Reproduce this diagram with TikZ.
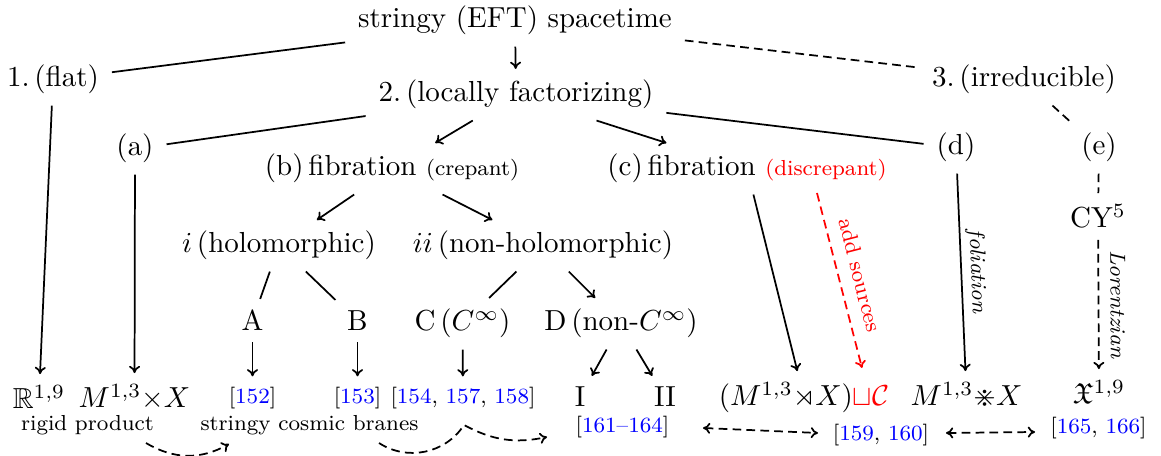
\documentclass[tikz,border=0pt]{standalone}
\usepackage{amssymb}
\usetikzlibrary{calc,arrows.meta}
\newcommand{\smf}{\fontsize{7.5}{9}\selectfont}
\begin{document}
\begin{tikzpicture}[x=0.345pt,y=-0.345pt,
  >={To[length=2.5pt,width=3.8pt]},
  cell/.style={anchor=base, inner xsep=4.3pt, inner ysep=3.7pt},
  sm/.style={cell, font=\smf},
  lab/.style={font=\smf\itshape, inner sep=1pt, sloped},
  conn/.style={line width=0.6pt},
  arr/.style={conn,->},
  dsh/.style={conn,dash pattern=on 3pt off 1.8pt},
  darr/.style={dsh,->},
  ddarr/.style={dsh,<->}]
\useasboundingbox (0,0) rectangle (1161,456);
% nodes
\node[cell] (top) at (515,28) {stringy (EFT) spacetime};
\node[cell] (n1) at (53,87) {1.\,(flat)};
\node[cell] (n2) at (516,102) {2.\,(locally factorizing)};
\node[cell] (n3) at (1024,87) {3.\,(irreducible)};
\node[cell] (na) at (135,156) {(a)};
\node[cell] (nb) at (392,176) {(b)\,fibration {\smf(crepant)}};
\node[cell] (nc) at (747,176) {(c)\,fibration {\smf\color{red}(discrepant)}};
\node[cell] (nd) at (956,155) {(d)};
\node[cell] (ne) at (1099,155) {(e)};
\node[cell] (cy) at (1098,228) {CY$^5$};
\node[cell] (ni) at (279,253) {$i$\,(holomorphic)};
\node[cell] (nii) at (543,253) {$ii$\,(non-holomorphic)};
\node[cell] (nA) at (252.5,331) {A};
\node[cell] (nB) at (357.5,331) {B};
\node[cell] (nC) at (462.5,331) {C\,($C^\infty$)};
\node[cell] (nD) at (621,331) {D\,(non-$C^\infty$)};
\node[cell] (R) at (39,409) {$\mathbb{R}^{1,9}$};
\node[cell] (MX) at (134.5,408) {$M^{1,3}{\times}X$};
\node[sm] (r152) at (252.5,404) {[\textcolor{blue}{152}]};
\node[sm] (r153) at (357.5,404) {[\textcolor{blue}{153}]};
\node[sm] (r154) at (463,404) {[\textcolor{blue}{154}, \textcolor{blue}{157}, \textcolor{blue}{158}]};
\node[cell] (nI) at (580,407) {I};
\node[cell] (nII) at (665,407) {II};
\node[sm] (r161) at (622.5,433) {[\textcolor{blue}{161--164}]};
\node[cell] (Mrt) at (804,406) {$(M^{1,3}{\rtimes}X)\textcolor{red}{{\sqcup}\mathcal{C}}$};
\node[cell] (Mdv) at (966.5,406) {$M^{1,3}{\divideontimes}X$};
\node[cell] (frak) at (1099,404) {$\mathfrak{X}^{1,9}$};
\node[sm] (r159) at (881,441) {[\textcolor{blue}{159}, \textcolor{blue}{160}]};
\node[sm] (r165) at (1098.5,434) {[\textcolor{blue}{165}, \textcolor{blue}{166}]};
\node[sm] (rp) at (87.5,431) {rigid product};
\node[sm] (scb) at (309.5,431) {stringy cosmic branes};
% edges
\draw[arr] (top) -- (n2);
\draw[conn] (top) -- (n1);
\draw[dsh] (top) -- (n3);
\draw[conn] (n2) -- (na);
\draw[arr] (n2) -- (nb);
\draw[arr] (n2) -- (nc);
\draw[conn] (n2) -- (nd);
\draw[dsh] (n3) -- (ne);
\draw[arr] (n1) -- (R);
\draw[arr] (na) -- (MX);
\draw[arr] (nb) -- (ni);
\draw[arr] (nb) -- (nii);
\draw[conn] (ni) -- (nA);
\draw[conn] (ni) -- (nB);
\draw[conn] (nii) -- (nC);
\draw[arr] (nii) -- (nD);
\draw[arr] (nA) -- (r152);
\draw[arr] (nB) -- (r153);
\draw[arr] (nC) -- (r154);
\draw[arr] (nD) -- (nI);
\draw[arr] (nD) -- (nII);
\draw[arr] (nc) -- (Mrt);
\draw[darr,red] ($(nc.base)+(70,17)$) -- node[lab,above=3.4pt,text=red,font=\smf]{add sources} ($(Mrt.base)+(58,-38)$);
\draw[arr] (nd) -- node[lab,above=0.6pt]{foliation} (Mdv);
\draw[dsh] (ne) -- (cy);
\draw[darr] (cy) -- node[lab,above=2.8pt]{Lorentzian} (frak);
% bottom dashed curves
\draw[darr] ($(rp.base)+(58.5,12)$) to[bend right=30] ($(scb.base)+(-80.5,13)$);
\coordinate (peak) at ($(r154.base)+(1,21)$);
\draw[darr] ($(scb.base)+(69.5,12)$) to[bend right=45] (peak) to[bend right=20] ($(r161.base)+(-75.5,4)$);
\draw[ddarr] ($(r161.base)+(80.5,-5)$) -- ($(r159.base)+(-63,-8)$);
\draw[ddarr] ($(r159.base)+(65,-8)$) -- ($(r165.base)+(-63.5,-2)$);
\end{tikzpicture}
\end{document}
